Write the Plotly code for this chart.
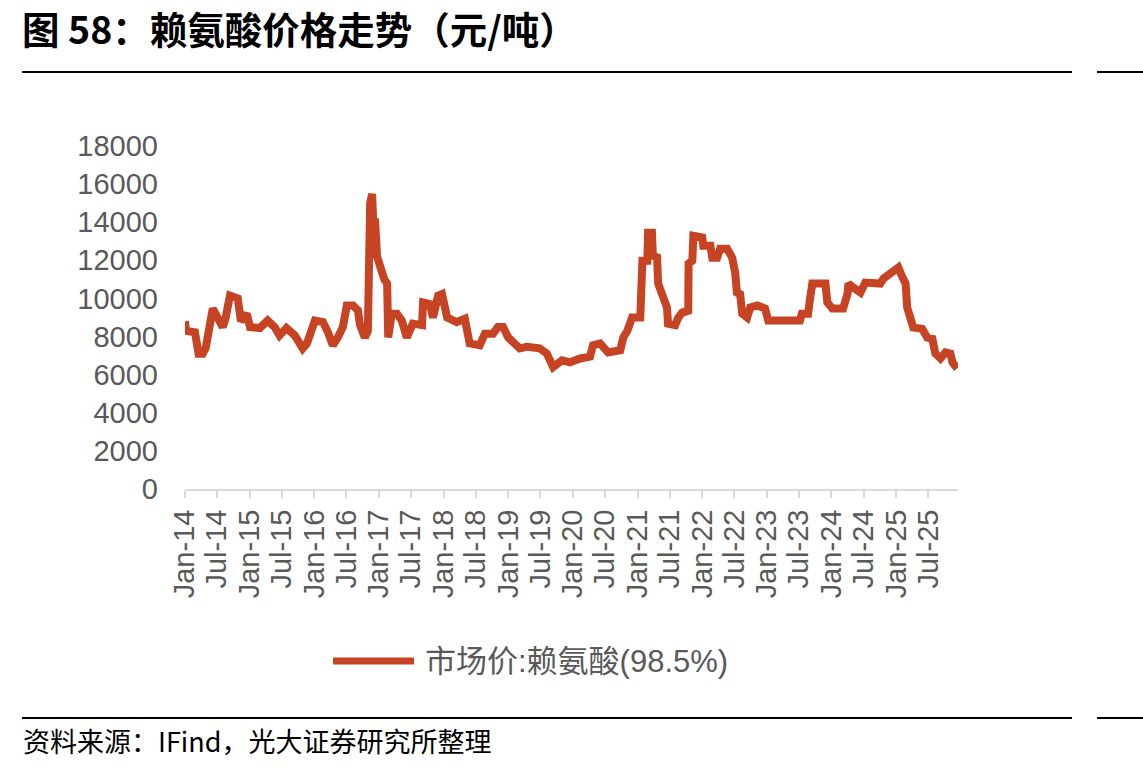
import plotly.graph_objects as go

# ---------------- data ----------------
dates = [
    "2014-01-01", "2014-01-07", "2014-02-26", "2014-03-08", "2014-03-19", "2014-04-11",
    "2014-04-28", "2014-06-07", "2014-07-10", "2014-08-02", "2014-08-19", "2014-09-12",
    "2014-10-26", "2014-11-13", "2014-12-16", "2015-01-03", "2015-02-28", "2015-04-13",
    "2015-05-22", "2015-06-19", "2015-07-28", "2015-09-13", "2015-10-28", "2015-11-21",
    "2016-01-05", "2016-02-19", "2016-03-18", "2016-04-15", "2016-05-13", "2016-06-11",
    "2016-07-03", "2016-08-07", "2016-09-04", "2016-09-16", "2016-10-13", "2016-10-25",
    "2016-10-30", "2016-11-12", "2016-11-23", "2016-12-04", "2016-12-09", "2016-12-21",
    "2017-01-02", "2017-01-13", "2017-01-31", "2017-02-16", "2017-02-22", "2017-03-14",
    "2017-04-12", "2017-05-10", "2017-06-07", "2017-07-11", "2017-09-01", "2017-09-07",
    "2017-10-16", "2017-11-02", "2017-12-01", "2017-12-23", "2018-01-21", "2018-03-16",
    "2018-05-01", "2018-05-28", "2018-07-24", "2018-08-22", "2018-10-07", "2018-11-04",
    "2018-12-03", "2019-01-01", "2019-03-07", "2019-04-16", "2019-06-28", "2019-08-07",
    "2019-09-12", "2019-11-01", "2019-12-16", "2020-02-12", "2020-04-07", "2020-04-24",
    "2020-06-03", "2020-07-18", "2020-09-25", "2020-10-12", "2020-11-04", "2020-12-01",
    "2021-01-16", "2021-01-28", "2021-02-25", "2021-03-01", "2021-03-23", "2021-03-28",
    "2021-04-21", "2021-04-27", "2021-05-19", "2021-06-16", "2021-06-22", "2021-08-01",
    "2021-08-19", "2021-09-10", "2021-10-14", "2021-10-16", "2021-11-06", "2021-11-12",
    "2022-01-01", "2022-01-07", "2022-02-16", "2022-02-27", "2022-03-26", "2022-04-12",
    "2022-05-22", "2022-06-19", "2022-07-06", "2022-07-16", "2022-08-03", "2022-08-15",
    "2022-09-12", "2022-09-29", "2022-11-08", "2022-12-22", "2023-01-09", "2023-07-07",
    "2023-07-18", "2023-08-22", "2023-09-03", "2023-09-15", "2023-11-28", "2023-12-09",
    "2024-01-06", "2024-03-07", "2024-04-01", "2024-04-06", "2024-05-04", "2024-06-13",
    "2024-07-10", "2024-10-03", "2024-10-21", "2024-12-01", "2025-01-13", "2025-02-06",
    "2025-02-23", "2025-03-04", "2025-03-22", "2025-04-07", "2025-05-28", "2025-06-25",
    "2025-07-24", "2025-08-10", "2025-09-08", "2025-10-06", "2025-11-03", "2025-11-15",
    "2025-12-12",
]
price = [
    8800, 8300, 8230, 7600, 7100, 7100,
    7400, 9470, 8900, 8500, 9000, 10150,
    10000, 8800, 9200, 8500, 8450, 8840,
    8500, 8060, 8450, 8060, 7380, 7640,
    8840, 8760, 8240, 7540, 7950, 8500,
    9630, 9630, 9370, 8600, 7950, 8300,
    8300, 15000, 15490, 13000, 14200, 12200,
    11800, 11400, 11000, 10780, 7950, 9200,
    9200, 8840, 7950, 8680, 8600, 9790,
    9700, 9000, 10150, 10230, 9000, 8760,
    8930, 7640, 7540, 8150, 8150, 8500,
    8500, 7950, 7380, 7460, 7380, 7110,
    6400, 6750, 6650, 6850, 6950, 7540,
    7640, 7170, 7280, 7950, 8300, 9000,
    9000, 11980, 11980, 13450, 13450, 12240,
    12160, 10780, 10150, 9520, 8680, 8600,
    9000, 9260, 9350, 11830, 11980, 13290,
    13200, 12770, 12770, 12140, 12140, 12610,
    12610, 12140, 11360, 10310, 10230, 9200,
    9000, 9520, 9630, 9470, 8840, 8840,
    9200, 9200, 10050, 10780, 10780, 9790,
    9470, 9470, 10250, 10780, 10570, 10310,
    10830, 10780, 11040, 11300, 11620, 11100,
    10780, 9520, 9000, 8480, 8400, 7950,
    7880, 7110, 6850, 7170, 7110, 6640,
    6330,
]
series_name = "市场价:赖氨酸(98.5%)"
tick_years = list(range(2014, 2026))
tick_vals = []
tick_text = []
for yr in tick_years:
    for mon, lab in (("01", "Jan"), ("07", "Jul")):
        tick_vals.append(f"{yr}-{mon}-01")
        tick_text.append(f"{lab}-{str(yr)[2:]}")
y_ticks = list(range(0, 18001, 2000))
y_tick_text = [str(v) for v in y_ticks]

title_text = "图 58：赖氨酸价格走势（元/吨）"
source_text = "资料来源：IFind，光大证券研究所整理"

# ---------------- layout geometry ----------------
W, H = 1143, 769
L, R = 185, 958          # plot area x pixels
T, B = 146, 489          # plot area y pixels

def px(x):
    return (x - L) / (R - L)

def py(y):
    return (B - y) / (B - T)

LINE_COLOR = "#C64424"
GRAY = "#595959"
LATIN = "Liberation Sans, Arial, Noto Sans CJK SC, sans-serif"
CJK = "Noto Sans CJK SC, Liberation Sans, sans-serif"

fig = go.Figure()
fig.add_trace(go.Scatter(
    x=dates, y=price, mode="lines", name=series_name,
    line=dict(color=LINE_COLOR, width=8, shape="linear"),
    showlegend=False,
))

shapes = []
for yy in (72, 718):
    shapes.append(dict(type="line", xref="paper", yref="paper",
                       x0=px(22), x1=px(1072), y0=py(yy), y1=py(yy),
                       line=dict(color="#000000", width=2)))
    shapes.append(dict(type="line", xref="paper", yref="paper",
                       x0=px(1097), x1=px(1143), y0=py(yy), y1=py(yy),
                       line=dict(color="#000000", width=2)))
# legend sample line
shapes.append(dict(type="line", xref="paper", yref="paper",
                   x0=px(333), x1=px(414), y0=py(661), y1=py(661),
                   line=dict(color=LINE_COLOR, width=7)))

annotations = [
    dict(text=f"<b>{title_text}</b>", xref="paper", yref="paper",
         x=px(20), y=py(27), xanchor="left", yanchor="middle", showarrow=False,
         font=dict(family=CJK, size=37.5, color="#000000")),
    dict(text=source_text, xref="paper", yref="paper",
         x=px(21), y=py(740), xanchor="left", yanchor="middle", showarrow=False,
         font=dict(family=CJK, size=27, color="#000000")),
    dict(text=series_name, xref="paper", yref="paper",
         x=px(423), y=py(661), xanchor="left", yanchor="middle", showarrow=False,
         font=dict(family=LATIN, size=31, color=GRAY)),
]

fig.update_layout(
    width=W, height=H,
    margin=dict(l=L, r=W - R, t=T, b=H - B, pad=0),
    paper_bgcolor="white", plot_bgcolor="white",
    shapes=shapes, annotations=annotations,
    showlegend=False,
    xaxis=dict(
        type="date", range=["2014-01-01", "2025-12-16"],
        tickmode="array", tickvals=tick_vals, ticktext=tick_text,
        tickangle=-90, tickfont=dict(family=LATIN, size=29, color=GRAY),
        showgrid=False, zeroline=False,
        showline=True, linecolor="#D9D9D9", linewidth=2,
        ticks="outside", ticklen=7, tickcolor="#D9D9D9", tickwidth=2,
    ),
    yaxis=dict(
        range=[0, 18000], tickmode="array", tickvals=y_ticks, ticktext=y_tick_text,
        tickfont=dict(family=LATIN, size=29, color=GRAY),
        showgrid=False, zeroline=False, showline=False,
        ticks="", ticklabelstandoff=26,
    ),
)

fig.write_html("out.html")
